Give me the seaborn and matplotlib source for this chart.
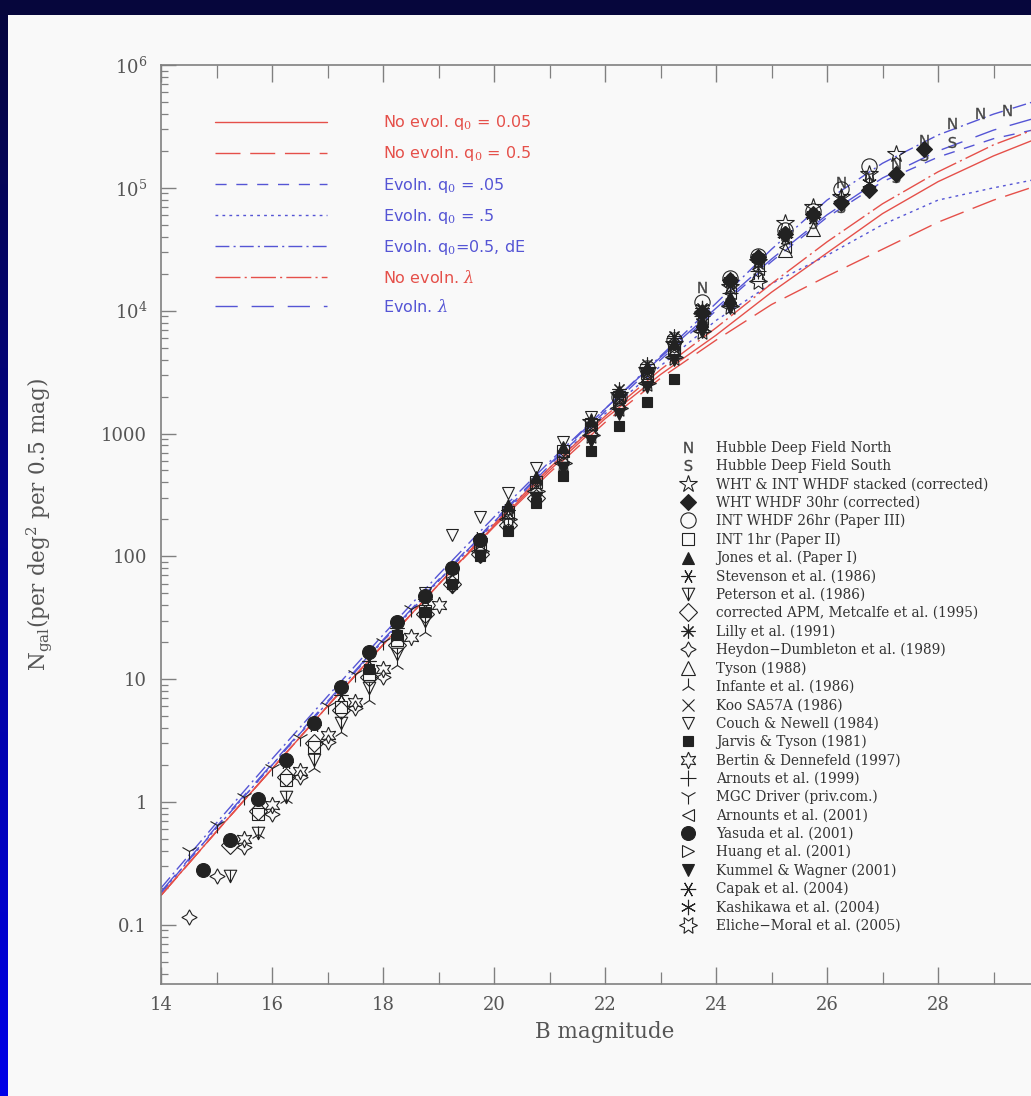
import numpy as np
import matplotlib
matplotlib.use("Agg")
from matplotlib import pyplot as plt
from matplotlib.path import Path
from matplotlib.patches import Rectangle
from matplotlib.colors import LinearSegmentedColormap
from matplotlib.ticker import FixedLocator, MultipleLocator, LogLocator, NullFormatter
import seaborn as sns

# ---- model curves: B magnitude grid and log10 N ----
model_mag = [14, 15, 16, 17, 18, 19, 20, 21, 22, 23, 24, 25, 26, 27, 28, 29, 30]
no_evol_q005 = [-0.76, -0.24, 0.27, 0.78, 1.28, 1.77, 2.25, 2.70, 3.12, 3.48, 3.80, 4.15, 4.47, 4.79, 5.05, 5.26, 5.44]
no_evol_q05 = [-0.76, -0.24, 0.27, 0.78, 1.28, 1.77, 2.24, 2.68, 3.09, 3.45, 3.76, 4.05, 4.28, 4.50, 4.72, 4.90, 5.05]
evol_q005 = [-0.74, -0.21, 0.30, 0.81, 1.31, 1.80, 2.28, 2.74, 3.18, 3.60, 4.00, 4.40, 4.76, 5.05, 5.25, 5.40, 5.50]
evol_q05 = [-0.74, -0.21, 0.30, 0.81, 1.31, 1.80, 2.27, 2.72, 3.16, 3.55, 3.92, 4.22, 4.45, 4.70, 4.90, 5.00, 5.09]
evol_q05_de = [-0.70, -0.17, 0.35, 0.86, 1.36, 1.85, 2.32, 2.77, 3.20, 3.63, 4.06, 4.50, 4.90, 5.20, 5.43, 5.60, 5.74]
no_evol_lam = [-0.76, -0.24, 0.27, 0.78, 1.28, 1.77, 2.26, 2.72, 3.14, 3.52, 3.86, 4.22, 4.56, 4.87, 5.13, 5.35, 5.52]
evol_lam = [-0.73, -0.20, 0.31, 0.82, 1.32, 1.81, 2.29, 2.75, 3.20, 3.62, 4.02, 4.42, 4.78, 5.08, 5.30, 5.47, 5.60]

model_labels = [r"No evol. q$_0$ = 0.05", r"No evoln. q$_0$ = 0.5", r"Evoln. q$_0$ = .05",
                r"Evoln. q$_0$ = .5", r"Evoln. q$_0$=0.5, dE", r"No evoln. $\lambda$", r"Evoln. $\lambda$"]

# ---- galaxy count data sets (B, N per deg^2 per 0.5 mag) ----
hdfn_b = [23.75, 24.25, 24.75, 25.25, 25.75, 26.25, 26.75, 27.25, 27.75, 28.25, 28.75, 29.25]
hdfn_n = [15500, 17000, 26000, 41000, 60000, 112000, 125000, 160000, 245000, 340000, 410000, 430000]
hdfs_b = [24.25, 24.75, 25.25, 25.75, 26.25, 26.75, 27.25, 27.75, 28.25]
hdfs_n = [18000, 25000, 38000, 52000, 70000, 96000, 123000, 186000, 235000]
stack_b = [21.75, 22.25, 22.75, 23.25, 23.75, 24.25, 24.75, 25.25, 25.75, 26.25, 26.75, 27.25]
stack_n = [1250, 2050, 3300, 5400, 9000, 15500, 25000, 52000, 70000, 85000, 130000, 190000]
wht30_b = [23.75, 24.25, 24.75, 25.25, 25.75, 26.25, 26.75, 27.25, 27.75]
wht30_n = [9800, 17800, 27500, 41700, 61700, 75900, 95500, 129000, 209000]
int26_b = [22.25, 22.75, 23.25, 23.75, 24.25, 24.75, 25.25, 25.75, 26.25, 26.75]
int26_n = [2000, 3400, 5800, 11800, 18500, 28000, 45000, 65000, 98000, 150000]
int1_b = [15.75, 16.25, 16.75, 17.25, 17.75, 18.25, 18.75, 19.25, 19.75, 20.25, 20.75, 21.25, 21.75, 22.25, 22.75, 23.25]
int1_n = [0.8, 1.5, 2.8, 5.9, 11, 21, 36, 68, 125, 230, 400, 720, 1200, 2000, 3100, 4800]
jones_b = [20.25, 20.75, 21.25, 21.75, 22.25, 22.75, 23.25, 23.75, 24.25]
jones_n = [260, 440, 780, 1300, 2200, 3500, 5500, 8300, 13000]
steven_b = [16.25, 16.75, 17.25, 17.75, 18.25, 18.75, 19.25, 19.75, 20.25]
steven_n = [2.1, 4.2, 7.5, 14, 26, 45, 80, 140, 240]
peter_b = [15.25, 15.75, 16.25, 16.75, 17.25, 17.75, 18.25, 18.75, 19.25, 19.75, 20.25, 20.75, 21.25]
peter_n = [0.25, 0.56, 1.1, 2.2, 4.4, 8.5, 16, 30, 56, 100, 180, 300, 520]
apm_b = [15.25, 15.75, 16.25, 16.75, 17.25, 17.75, 18.25, 18.75, 19.25, 19.75, 20.25, 20.75]
apm_n = [0.45, 0.85, 1.6, 3.0, 5.6, 10.5, 19, 34, 60, 105, 180, 300]
lilly_b = [22.25, 22.75, 23.25, 23.75, 24.25, 24.75]
lilly_n = [2300, 3700, 6200, 10500, 17000, 27000]
heydon_b = [14.5, 15.0, 15.5, 16.0, 16.5, 17.0, 17.5, 18.0]
heydon_n = [0.115, 0.25, 0.43, 0.8, 1.6, 3.1, 5.8, 10.5]
tyson_b = [21.75, 22.25, 22.75, 23.25, 23.75, 24.25, 24.75, 25.25, 25.75]
tyson_n = [1100, 1800, 2900, 4700, 7600, 12500, 20000, 31000, 46000]
infante_b = [15.75, 16.25, 16.75, 17.25, 17.75, 18.25, 18.75]
infante_n = [0.55, 1.05, 1.9, 3.7, 6.8, 13, 24]
koo_b = [20.75, 21.25, 21.75, 22.25, 22.75, 23.25, 23.75]
koo_n = [380, 650, 1100, 1800, 3000, 4900, 7800]
couch_b = [18.75, 19.25, 19.75, 20.25, 20.75, 21.25, 21.75]
couch_n = [50, 150, 210, 330, 520, 850, 1350]
jarvis_b = [17.75, 18.25, 18.75, 19.25, 19.75, 20.25, 20.75, 21.25, 21.75, 22.25, 22.75, 23.25]
jarvis_n = [12, 23, 35, 60, 100, 160, 270, 450, 720, 1150, 1800, 2800]
bertin_b = [15.5, 16.0, 16.5, 17.0, 17.5, 18.0, 18.5, 19.0]
bertin_n = [0.5, 0.95, 1.8, 3.5, 6.5, 12, 22, 40]
arn99_b = [22.25, 22.75, 23.25, 23.75, 24.25, 24.75]
arn99_n = [2100, 3400, 5600, 9000, 14000, 21000]
mgc_b = [14.5, 15.0, 15.5, 16.0, 16.5, 17.0, 17.5, 18.0, 18.5]
mgc_n = [0.4, 0.65, 1.1, 1.9, 3.3, 6.0, 11, 20, 37]
arn01_b = [22.75, 23.25, 23.75, 24.25, 24.75, 25.25]
arn01_n = [3000, 5100, 8600, 14000, 22000, 33000]
yasuda_b = [14.75, 15.25, 15.75, 16.25, 16.75, 17.25, 17.75, 18.25, 18.75, 19.25, 19.75]
yasuda_n = [0.28, 0.49, 1.05, 2.2, 4.4, 8.7, 16.5, 29, 48, 81, 135]
huang_b = [19.25, 19.75, 20.25, 20.75, 21.25, 21.75, 22.25]
huang_n = [75, 130, 230, 390, 650, 1100, 1800]
kummel_b = [20.75, 21.25, 21.75, 22.25, 22.75, 23.25, 23.75, 24.25]
kummel_n = [300, 520, 870, 1450, 2400, 4000, 6700, 10500]
capak_b = [23.25, 23.75, 24.25, 24.75, 25.25, 25.75, 26.25]
capak_n = [6000, 10000, 16500, 26000, 40000, 58000, 78000]
kashi_b = [23.75, 24.25, 24.75, 25.25, 25.75, 26.25, 26.75]
kashi_n = [10500, 17500, 27000, 42000, 60000, 84000, 110000]
eliche_b = [19.75, 20.25, 20.75, 21.25, 21.75, 22.25, 22.75, 23.25, 23.75, 24.25, 24.75]
eliche_n = [110, 200, 340, 580, 980, 1600, 2600, 4200, 6800, 11000, 17500]

xticks = [14, 16, 18, 20, 22, 24, 26, 28, 30]
xtick_labels = ["14", "16", "18", "20", "22", "24", "26", "28", ""]   # 30 falls outside the slide
yticks = [1e6, 1e5, 1e4, 1000, 100, 10, 1, 0.1]
ytick_labels = [r"$10^6$", r"$10^5$", r"$10^4$", "1000", "100", "10", "1", "0.1"]

# ---- style ----
sns.set_theme(style="ticks")
plt.rcParams['font.family'] = ['DejaVu Serif']
plt.rcParams['mathtext.fontset'] = 'dejavuserif'
panel = '#f9f9f9'
red = '#e5504a'
blue = '#5555d5'
ink = '#222222'

fig = plt.figure(figsize=(10.31, 10.96), dpi=100, facecolor=panel)

# blue slide frame (left gradient strip, dark top strip)
bg = fig.add_axes([0, 0, 1, 1], zorder=-10)
bg.set_xlim(0, 1)
bg.set_ylim(0, 1)
bg.axis('off')
edge_cmap = LinearSegmentedColormap.from_list('edge', ['#06063c', '#0000e8'])
bg.imshow(np.linspace(0, 1, 256)[:, None], extent=[0, 8 / 1031, 0, 1], aspect='auto',
          cmap=edge_cmap, origin='upper')
bg.add_patch(Rectangle((0, 1 - 15 / 1096), 1, 15 / 1096, color='#06063c', lw=0))

ax = fig.add_axes([161 / 1031, 112 / 1096, 888 / 1031, 919 / 1096])
ax.set_facecolor(panel)
ax.set_yscale('log')

# ---- model lines ----
models = [
    (no_evol_q005, red, '-'),
    (no_evol_q05, red, (0, (18, 7))),
    (evol_q005, blue, (0, (8, 7))),
    (evol_q05, blue, (0, (2, 3))),
    (evol_q05_de, blue, (0, (10, 3, 1.5, 3))),
    (no_evol_lam, red, (0, (18, 3, 1.5, 3))),
    (evol_lam, blue, (0, (16, 10))),
]
line_handles = []
for (vals, col, ls), lab in zip(models, model_labels):
    sns.lineplot(x=model_mag, y=10 ** np.array(vals), ax=ax, color=col, linestyle=ls,
                 lw=1.0, label=lab, legend=False, estimator=None, sort=False)
    line_handles.append(ax.lines[-1])

# ---- data markers ----
pet_path = Path([(-1, 1), (1, 1), (0, -1), (-1, 1), (0, 1), (0, -1)],
                [Path.MOVETO, Path.LINETO, Path.LINETO, Path.CLOSEPOLY, Path.MOVETO, Path.LINETO])

datasets = [
    (hdfn_b, hdfn_n, r'$\mathsf{N}$', 8, True, "Hubble Deep Field North"),
    (hdfs_b, hdfs_n, r'$\mathsf{S}$', 8, True, "Hubble Deep Field South"),
    (stack_b, stack_n, '*', 13, False, "WHT & INT WHDF stacked (corrected)"),
    (wht30_b, wht30_n, 'D', 8, True, "WHT WHDF 30hr (corrected)"),
    (int26_b, int26_n, 'o', 11, False, "INT WHDF 26hr (Paper III)"),
    (int1_b, int1_n, 's', 8, False, "INT 1hr (Paper II)"),
    (jones_b, jones_n, '^', 8, True, "Jones et al. (Paper I)"),
    (steven_b, steven_n, (6, 2, 90), 10, False, "Stevenson et al. (1986)"),
    (peter_b, peter_n, pet_path, 9, False, "Peterson et al. (1986)"),
    (apm_b, apm_n, 'D', 9, False, "corrected APM, Metcalfe et al. (1995)"),
    (lilly_b, lilly_n, (8, 2, 0), 10, False, "Lilly et al. (1991)"),
    (heydon_b, heydon_n, (4, 1, 0), 11, False, "Heydon−Dumbleton et al. (1989)"),
    (tyson_b, tyson_n, '^', 10, False, "Tyson (1988)"),
    (infante_b, infante_n, '2', 11, False, "Infante et al. (1986)"),
    (koo_b, koo_n, 'x', 8, False, "Koo SA57A (1986)"),
    (couch_b, couch_n, 'v', 9, False, "Couch & Newell (1984)"),
    (jarvis_b, jarvis_n, 's', 7, True, "Jarvis & Tyson (1981)"),
    (bertin_b, bertin_n, (6, 1, 0), 12, False, "Bertin & Dennefeld (1997)"),
    (arn99_b, arn99_n, '+', 12, False, "Arnouts et al. (1999)"),
    (mgc_b, mgc_n, '1', 12, False, "MGC Driver (priv.com.)"),
    (arn01_b, arn01_n, '<', 9, False, "Arnounts et al. (2001)"),
    (yasuda_b, yasuda_n, 'o', 10, True, "Yasuda et al. (2001)"),
    (huang_b, huang_n, '>', 9, False, "Huang et al. (2001)"),
    (kummel_b, kummel_n, 'v', 8, True, "Kummel & Wagner (2001)"),
    (capak_b, capak_n, (6, 2, 90), 11, False, "Capak et al. (2004)"),
    (kashi_b, kashi_n, (6, 2, 0), 11, False, "Kashikawa et al. (2004)"),
    (eliche_b, eliche_n, (6, 1, 30), 13, False, "Eliche−Moral et al. (2005)"),
]
data_handles = []
for b, n, mk, ms, filled, lab in datasets:
    glyph = isinstance(mk, str) and mk.startswith('$')
    h, = ax.plot(b, n, ls='none', marker=mk, ms=ms, mew=0.2 if glyph else 0.8,
                 mec='#444444' if glyph else ink,
                 mfc=('#444444' if glyph else ink) if filled else 'none',
                 color=ink, label=lab, zorder=3)
    data_handles.append(h)

# ---- axes ----
ax.set_xlim(14, 30)
ax.set_ylim(0.033, 1e6)
ax.set_xticks(xticks)
ax.set_xticklabels(xtick_labels)
ax.xaxis.set_minor_locator(MultipleLocator(1))
ax.yaxis.set_major_locator(FixedLocator(yticks))
ax.set_yticklabels(ytick_labels)
ax.yaxis.set_minor_locator(LogLocator(base=10, subs=np.arange(2, 10)))
ax.yaxis.set_minor_formatter(NullFormatter())
for sp in ax.spines.values():
    sp.set_color('#808080')
    sp.set_linewidth(1.2)
ax.tick_params(which='both', direction='in', top=True, right=True, color='#808080',
               labelcolor='#555555', labelsize=13)
ax.tick_params(axis='x', which='major', length=12, width=1, pad=9)
ax.tick_params(axis='x', which='minor', length=9, width=0.9)
ax.tick_params(axis='y', which='major', length=11, width=1, pad=10)
ax.tick_params(axis='y', which='minor', length=5, width=0.9)

ax.set_xlabel("B magnitude", fontsize=15.5, color='#555555', labelpad=5)
ax.set_ylabel(r"N$_{\rm gal}$(per deg$^2$ per 0.5 mag)", fontsize=15.5, color='#555555')
ax.yaxis.set_label_coords(-0.12, 0.5)

# ---- legends ----
leg1 = ax.legend(handles=line_handles, loc='upper left', bbox_to_anchor=(0.0608, 0.9475),
                 frameon=False, handlelength=7.0, handletextpad=3.5,
                 labelspacing=0.76, borderpad=0, borderaxespad=0,
                 prop={'family': 'DejaVu Sans', 'size': 11.5})
for txt, (vals, col, ls) in zip(leg1.get_texts(), models):
    txt.set_color(col)
ax.add_artist(leg1)

leg2 = ax.legend(handles=data_handles, loc='upper left', bbox_to_anchor=(0.582, 0.591),
                 frameon=False, handlelength=1.5, handletextpad=1.3, labelspacing=0.31,
                 borderpad=0, borderaxespad=0, prop={'family': 'DejaVu Serif', 'size': 9.8})
for txt in leg2.get_texts():
    txt.set_color('#333333')

fig.savefig("out.png", dpi=100, facecolor=panel)
